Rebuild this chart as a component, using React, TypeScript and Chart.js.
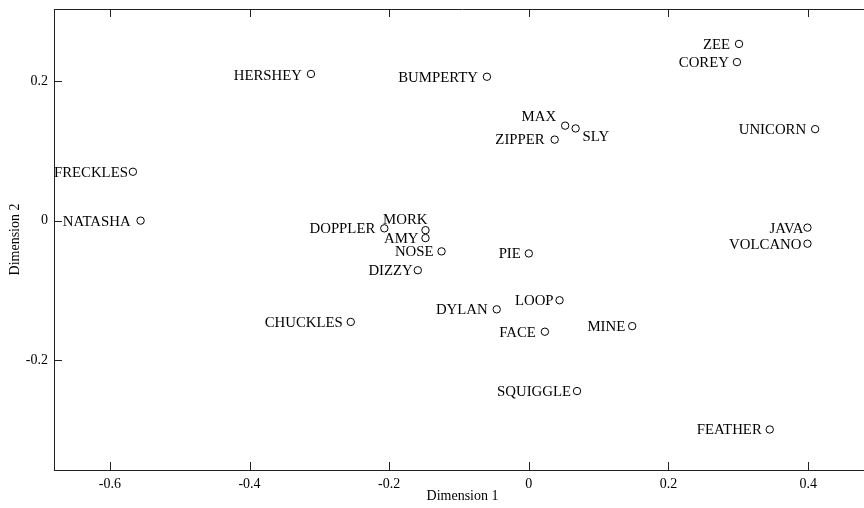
import React, { useEffect, useRef } from "react";
import { Chart, registerables } from "chart.js";

Chart.register(...registerables);

// ---- data ----
const names = [
  "HERSHEY", "BUMPERTY", "MAX", "SLY", "ZIPPER", "ZEE", "COREY", "UNICORN",
  "JAVA", "VOLCANO", "FRECKLES", "NATASHA", "DOPPLER", "MORK", "AMY", "NOSE",
  "PIE", "DIZZY", "LOOP", "DYLAN", "CHUCKLES", "FACE", "MINE", "SQUIGGLE", "FEATHER",
];
const dim1 = [
  -0.312, -0.060, 0.052, 0.067, 0.037, 0.301, 0.298, 0.410,
  0.399, 0.399, -0.567, -0.556, -0.207, -0.148, -0.148, -0.125,
  0.000, -0.159, 0.044, -0.046, -0.255, 0.023, 0.148, 0.069, 0.345,
];
const dim2 = [
  0.210, 0.206, 0.136, 0.132, 0.116, 0.253, 0.227, 0.131,
  -0.010, -0.033, 0.070, 0.000, -0.011, -0.0136, -0.025, -0.044,
  -0.047, -0.071, -0.114, -0.127, -0.145, -0.159, -0.151, -0.244, -0.299,
];
const xTickValues = [-0.6, -0.4, -0.2, 0, 0.2, 0.4];
const yTickValues = [-0.2, 0, 0.2];
const xTitle = "Dimension 1";
const yTitle = "Dimension 2";

// label placement relative to the marker: [dx, dy, align]
const labelPlacement: [number, number, CanvasTextAlign][] = [
  [-9, 2, "right"], [-9, 1, "right"], [-9, -9, "right"], [7, 9, "left"],
  [-10, 1, "right"], [-9, 1, "right"], [-8, 1, "right"], [-9, 1, "right"],
  [-4, 1, "right"], [-6, 1, "right"], [-5, 1, "right"], [-10, 1, "right"],
  [-9, 1, "right"], [2, -10, "right"], [-7, 1, "right"], [-8, 1, "right"],
  [-8, 1, "right"], [-5, 1, "right"], [-6, 1, "right"], [-9, 1, "right"],
  [-8, 1, "right"], [-9, 1, "right"], [-7, 1, "right"], [-6, 1, "right"], [-8, 1, "right"],
];

const FONT = "'Liberation Serif', 'Times New Roman', serif";
const LINE = "#222";

const fmt = (v: number) => String(Math.round(v * 10) / 10);

const frameAndLabels = {
  id: "frameAndLabels",
  afterDraw(chart: any) {
    const ctx = chart.ctx;
    const { left, right, top, bottom } = chart.chartArea;
    const xs = chart.scales.x;
    const ys = chart.scales.y;
    ctx.save();
    ctx.strokeStyle = LINE;
    ctx.lineWidth = 1;
    ctx.beginPath();
    ctx.moveTo(left, top + 0.5);
    ctx.lineTo(right, top + 0.5);
    const tl = 8;
    xs.ticks.forEach((t: any) => {
      const px = Math.round(xs.getPixelForValue(t.value)) + 0.5;
      ctx.moveTo(px, bottom);
      ctx.lineTo(px, bottom - tl);
      ctx.moveTo(px, top);
      ctx.lineTo(px, top + tl);
    });
    ys.ticks.forEach((t: any) => {
      const py = Math.round(ys.getPixelForValue(t.value)) + 0.5;
      ctx.moveTo(left, py);
      ctx.lineTo(left + tl, py);
    });
    ctx.stroke();

    const meta = chart.getDatasetMeta(0);
    ctx.fillStyle = "#000";
    ctx.font = `14.8px ${FONT}`;
    ctx.textBaseline = "middle";
    meta.data.forEach((el: any, i: number) => {
      const [dx, dy, align] = labelPlacement[i];
      ctx.textAlign = align;
      ctx.fillText(names[i], el.x + dx, el.y + dy);
    });
    ctx.restore();
  },
};

export default function App() {
  const ref = useRef<HTMLCanvasElement | null>(null);
  useEffect(() => {
    if (!ref.current) return;
    const chart = new Chart(ref.current, {
      type: "scatter",
      data: {
        datasets: [
          {
            data: dim1.map((x, i) => ({ x, y: dim2[i] })),
            pointStyle: "circle",
            pointRadius: 3.7,
            pointHoverRadius: 3.7,
            borderColor: "#000",
            backgroundColor: "rgba(255,255,255,0)",
            borderWidth: 1,
          },
        ],
      },
      options: {
        animation: false,
        responsive: false,
        events: [],
        layout: { padding: { left: 0, top: 9, right: 9, bottom: 0 } },
        plugins: { legend: { display: false }, tooltip: { enabled: false } },
        scales: {
          x: {
            type: "linear",
            min: -0.68,
            max: 0.49,
            afterBuildTicks: (s: any) => {
              s.ticks = xTickValues.map((v) => ({ value: v }));
            },
            afterFit: (s: any) => {
              s.height = 38;
              s.paddingLeft = 0;
              s.paddingRight = 0;
            },
            grid: { display: false, drawTicks: false },
            border: { display: true, color: LINE, width: 1 },
            ticks: {
              padding: 6,
              color: "#000",
              font: { family: FONT, size: 14 },
              maxRotation: 0,
              callback: (v: any) => fmt(Number(v)),
            },
            title: {
              display: true,
              text: xTitle,
              color: "#000",
              font: { family: FONT, size: 14 },
              padding: { top: 0, bottom: 3 },
            },
          },
          y: {
            type: "linear",
            min: -0.357,
            max: 0.303,
            afterBuildTicks: (s: any) => {
              s.ticks = yTickValues.map((v) => ({ value: v }));
            },
            afterFit: (s: any) => {
              s.width = 54;
              s.paddingTop = 0;
              s.paddingBottom = 0;
            },
            grid: { display: false, drawTicks: false },
            border: { display: true, color: LINE, width: 1 },
            ticks: {
              padding: 6,
              color: "#000",
              font: { family: FONT, size: 14 },
              callback: (v: any) => fmt(Number(v)),
            },
            title: {
              display: true,
              text: yTitle,
              color: "#000",
              font: { family: FONT, size: 14 },
              padding: { top: 7, bottom: 0 },
            },
          },
        },
      },
      plugins: [frameAndLabels],
    });
    return () => chart.destroy();
  }, []);

  return (
    <div
      style={{
        position: "fixed",
        left: 0,
        top: 0,
        width: 864,
        height: 508,
        overflow: "hidden",
        background: "#fff",
      }}
    >
      <canvas ref={ref} width={880} height={508} style={{ display: "block" }} />
    </div>
  );
}
